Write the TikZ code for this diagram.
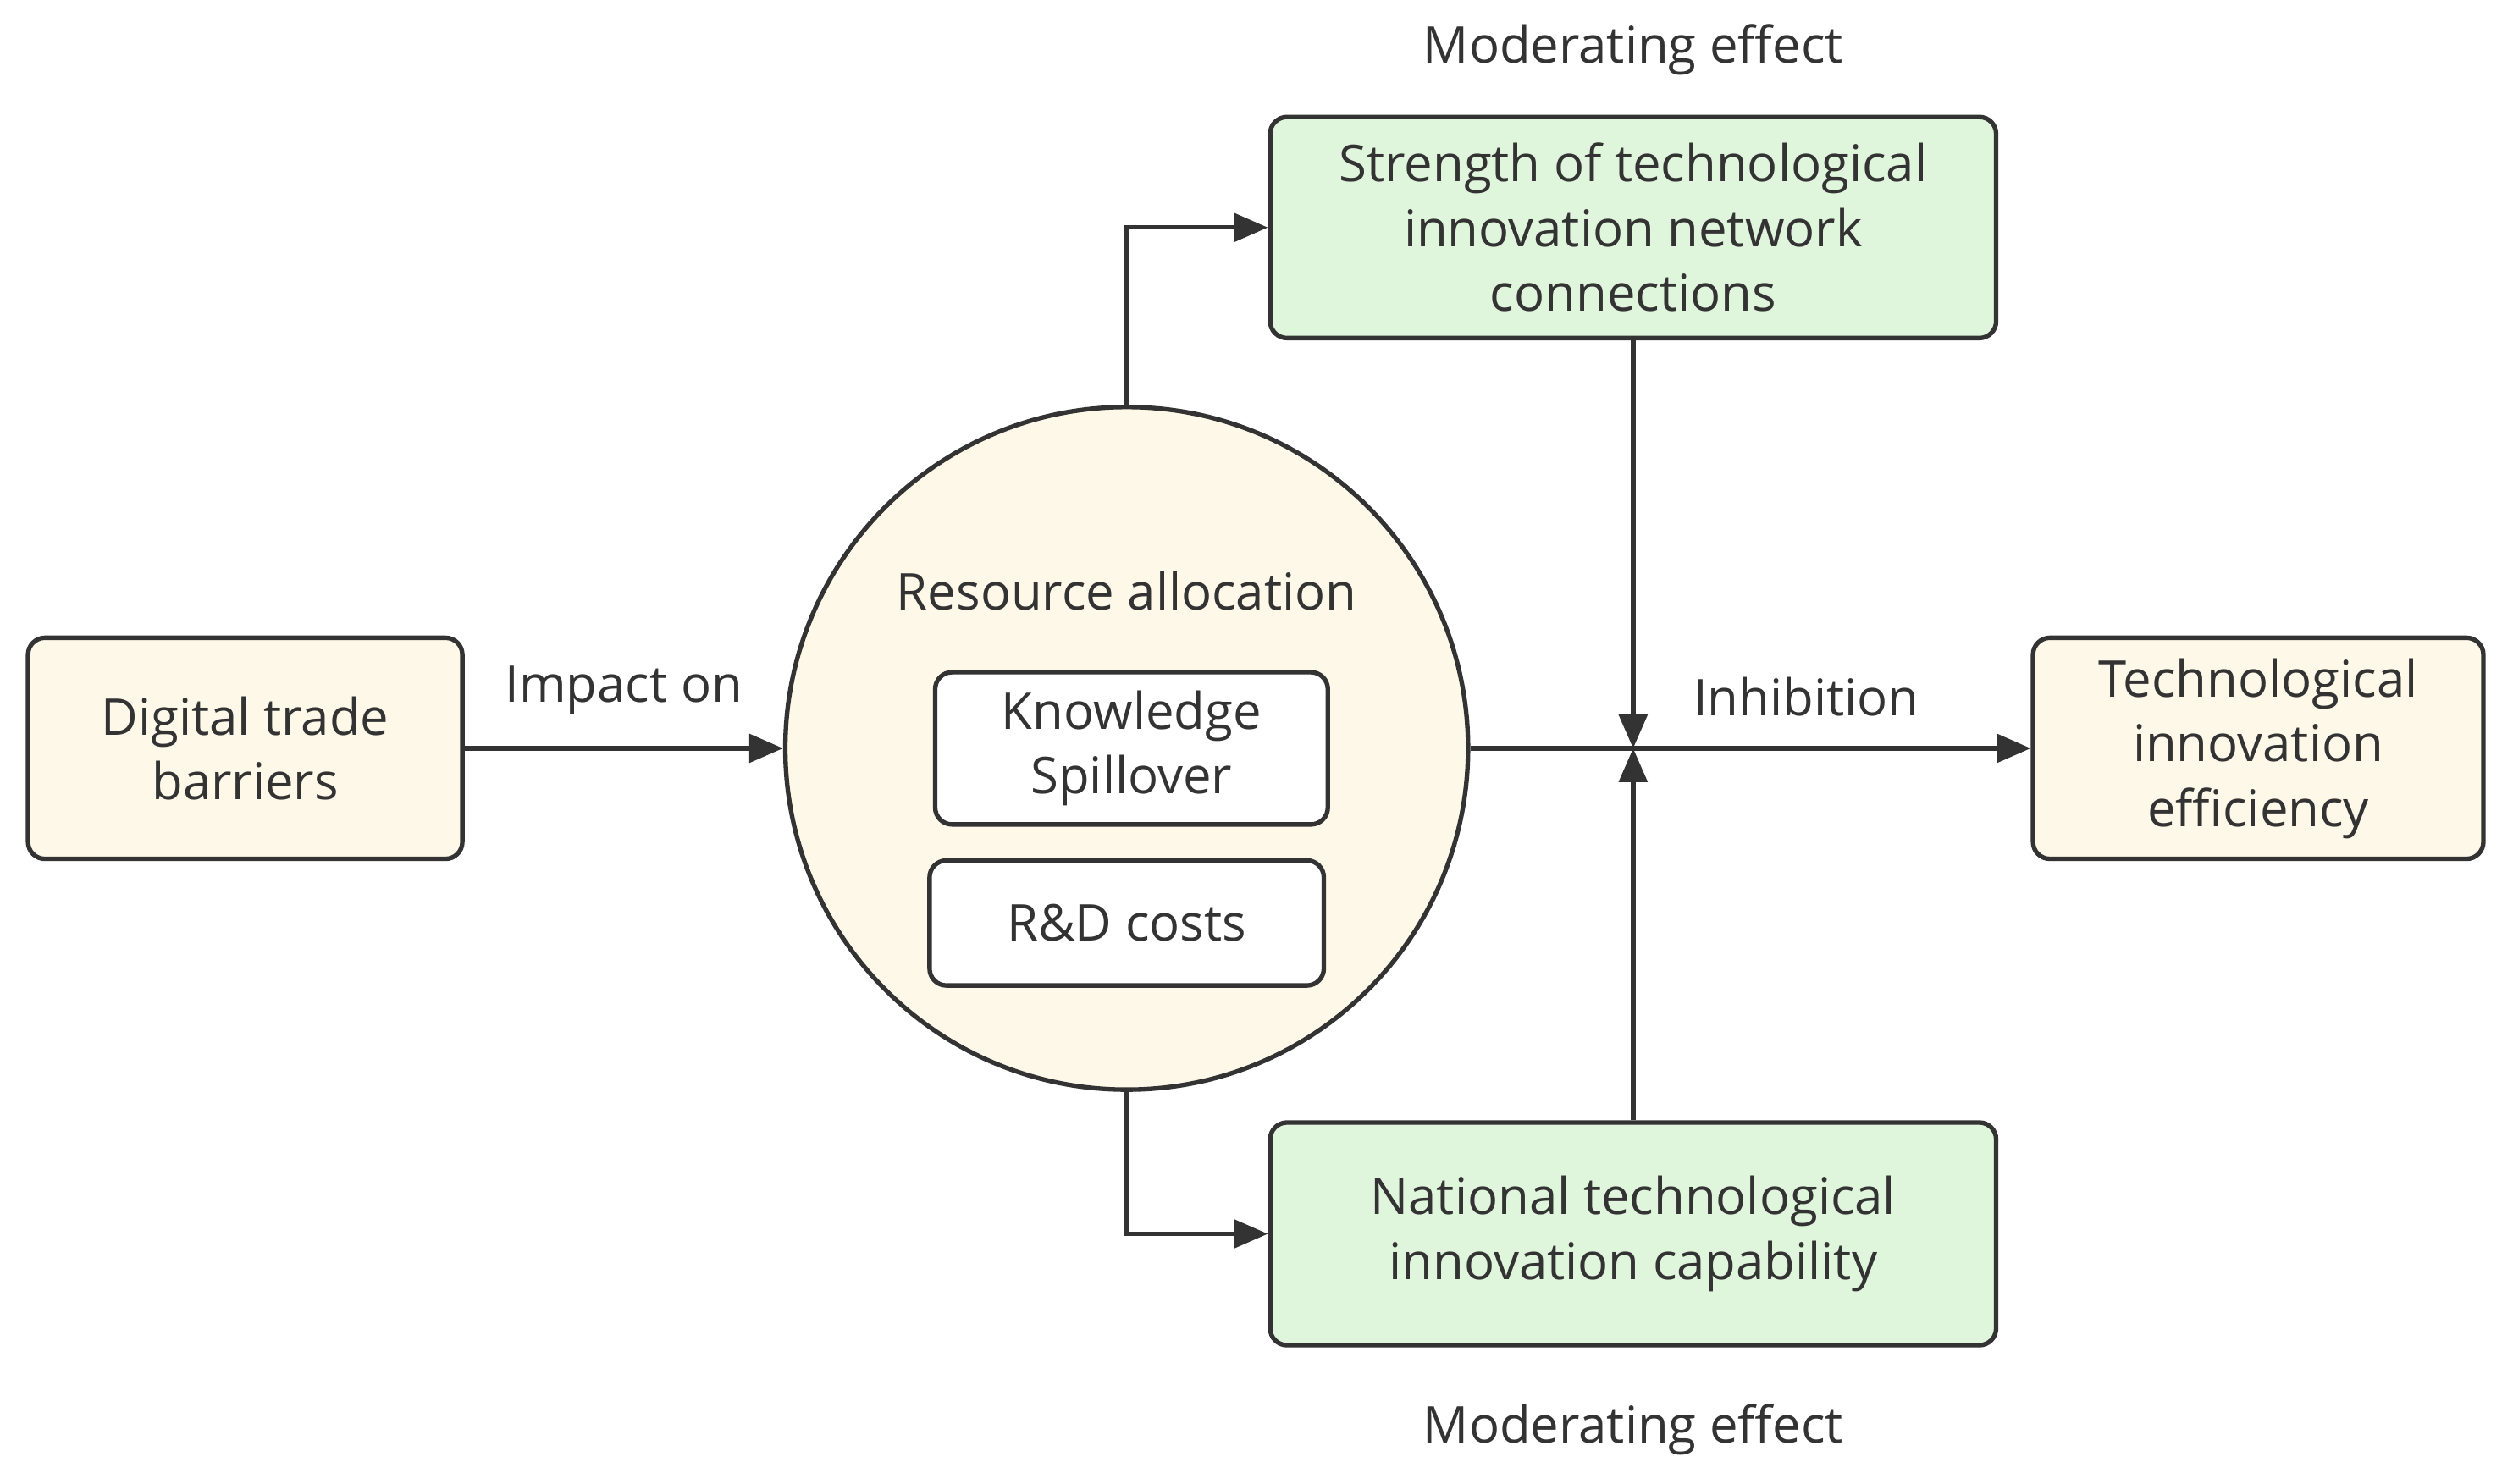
\documentclass[tikz,border=0pt]{standalone}
\usepackage{fontspec}
\setmainfont{Open Sans}
\usetikzlibrary{arrows.meta}
\definecolor{cream}{HTML}{FDF8E8}
\definecolor{mint}{HTML}{DFF5DC}
\definecolor{ink}{HTML}{333333}
\begin{document}
\begin{tikzpicture}[x=0.02cm,y=-0.02cm,
  every node/.style={font=\fontsize{18}{23}\selectfont,text=ink},
  box/.style={draw=ink,line width=1.6pt,rounded corners=6pt,align=center,inner sep=0pt},
  arr/.style={draw=ink,line width=1.6pt,-{Triangle[length=12pt,width=10pt]}}]
\useasboundingbox (0,0) rectangle (1568,926);
\node[box,fill=cream,minimum width=271*0.02cm,minimum height=138*0.02cm] (dtb) at (153,467) {Digital trade\\barriers};
\node[draw=ink,line width=1.6pt,fill=cream,circle,minimum size=426*0.02cm,inner sep=0pt] (ra) at (703,467) {};
\node (ral) at (703,369) {Resource allocation};
\node[box,fill=white,minimum width=245*0.02cm,minimum height=95*0.02cm] (ks) at (706,467) {Knowledge\\Spillover};
\node[box,fill=white,minimum width=246*0.02cm,minimum height=78*0.02cm] (rd) at (703,576) {R\&D costs};
\node[box,fill=mint,minimum width=453*0.02cm,minimum height=138*0.02cm] (top) at (1019,142) {Strength of technological\\innovation network\\connections};
\node[box,fill=mint,minimum width=453*0.02cm,minimum height=139*0.02cm] (bot) at (1019,770) {National technological\\innovation capability};
\node[box,fill=cream,minimum width=281*0.02cm,minimum height=138*0.02cm] (tie) at (1409,467) {Technological\\innovation\\efficiency};
\node (m1) at (1019,31) {Moderating effect};
\node (m2) at (1019,892) {Moderating effect};
\coordinate (j) at (1019,467);
\draw[arr] (dtb.east) -- node[above=8pt] {Impact on} (ra.west);
\draw[arr] (ra.east) -- (tie.west);
\node at (1127,435) {Inhibition};
\draw[arr] (ra.north) |- (top.west);
\draw[arr] (ra.south) |- (bot.west);
\draw[arr] (top.south) -- (j);
\draw[arr] (bot.north) -- (j);
\end{tikzpicture}
\end{document}
